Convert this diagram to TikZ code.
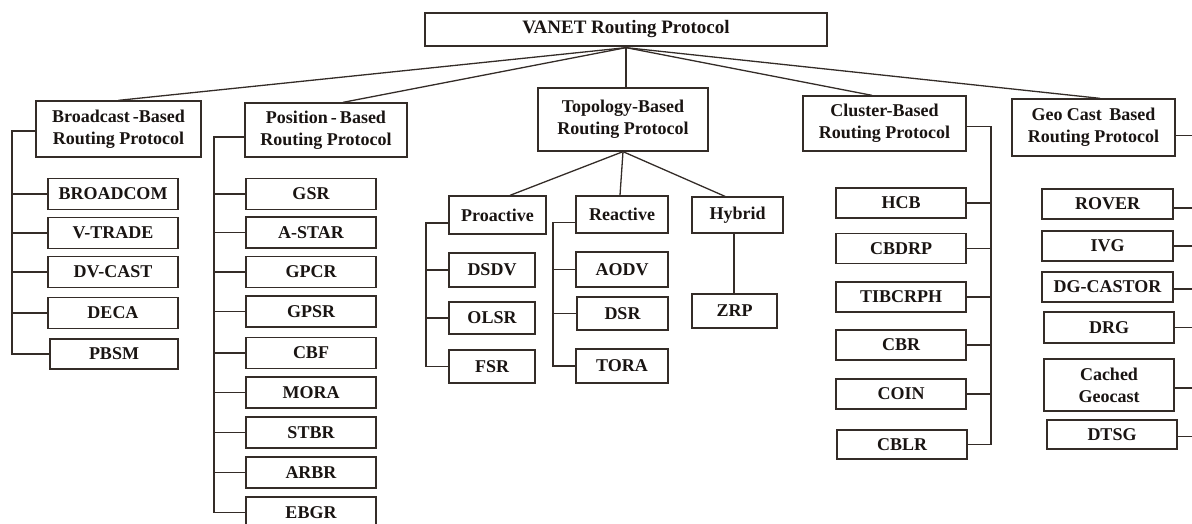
\documentclass[tikz,border=0pt]{standalone}
\usepackage{fontspec}
\setmainfont{Liberation Serif}
\definecolor{ln}{RGB}{52,44,40}
\definecolor{tx}{RGB}{25,20,18}
\begin{document}
\begin{tikzpicture}[x=1pt,y=-1pt,
  bx/.style={draw=ln,line width=1.3pt,inner sep=0pt,align=center,text=tx,
    font=\fontsize{18}{22}\selectfont\bfseries},
  cn/.style={draw=ln,line width=1.3pt}]
\useasboundingbox (0,0) rectangle (1192,524);
\clip (0,0) rectangle (1192,524);
% root and main categories
\node[bx,minimum width=402pt,minimum height=33pt,font=\fontsize{19}{22}\selectfont\bfseries] (root) at (626,29.5) {VANET Routing Protocol};
\node[bx,minimum width=165pt,minimum height=56pt] (bc) at (118.5,129) {Broadcast\,-Based\\Routing Protocol};
\node[bx,minimum width=162pt,minimum height=54pt] (pos) at (326,130) {Position\,-\,Based\\Routing Protocol};
\node[bx,minimum width=170pt,minimum height=63pt] (topo) at (623,119.5) {Topology-Based\\Routing Protocol};
\node[bx,minimum width=163pt,minimum height=55pt] (clu) at (884.5,123.5) {Cluster-Based\\Routing Protocol};
\node[bx,minimum width=163pt,minimum height=57pt] (geo) at (1093.5,127.5) {Geo Cast\ \,Based\\Routing Protocol};
\coordinate (rt) at ([yshift=-1pt]root.south);
\draw[cn] (rt) -- (bc.north);
\draw[cn] (rt) -- ([xshift=17pt]pos.north);
\draw[cn] (rt) -- (rt |- topo.north);
\draw[cn] (rt) -- ([xshift=-12.5pt]clu.north);
\draw[cn] (rt) -- ([xshift=6.5pt]geo.north);
% broadcast children
\foreach \n/\t/\y in {b1/BROADCOM/194,b2/V-TRADE/233,b3/DV-CAST/272,b4/DECA/313}
  \node[bx,minimum width=130pt,minimum height=31pt] (\n) at (113,\y) {\t};
\node[bx,minimum width=128pt,minimum height=30pt] (b5) at (114,354) {PBSM};
\coordinate (bbus) at (12,0);
\draw[cn] ([yshift=-2pt]bc.west) -- ([yshift=-2pt]bc.west -| bbus) |- (b5.west);
\foreach \n in {b1,b2,b3,b4}
  \draw[cn] (\n.west) -- (\n.west -| bbus);
% position children
\foreach \n/\t/\y in {p1/GSR/194,p2/A-STAR/232.5,p3/GPCR/272,p4/GPSR/311.5,p5/CBF/353,p6/MORA/392.5,p7/STBR/432.5,p8/ARBR/472.5,p9/EBGR/512.5}
  \node[bx,minimum width=130pt,minimum height=31pt] (\n) at (311,\y) {\t};
\coordinate (pbus) at (214,0);
\draw[cn] ([yshift=-7pt]pos.west) -- ([yshift=-7pt]pos.west -| pbus) |- (p9.west);
\foreach \n in {p1,p2,p3,p4,p5,p6,p7,p8}
  \draw[cn] (\n.west) -- (\n.west -| pbus);
% topology children
\node[bx,minimum width=97pt,minimum height=38pt] (pro) at (497.5,215) {Proactive};
\node[bx,minimum width=92pt,minimum height=37pt] (rea) at (622,214.5) {Reactive};
\node[bx,minimum width=91pt,minimum height=36pt] (hyb) at (737.5,215) {Hybrid};
\draw[cn] (topo.south) -- ([xshift=12.5pt]pro.north);
\draw[cn] (topo.south) -- ([xshift=-2pt]rea.north);
\draw[cn] (topo.south) -- ([xshift=-12.5pt]hyb.north);
\node[bx,minimum width=86pt,minimum height=34pt] (t1) at (492,270) {DSDV};
\node[bx,minimum width=86pt,minimum height=32pt] (t2) at (492,318) {OLSR};
\node[bx,minimum width=86pt,minimum height=33pt] (t3) at (492,366.5) {FSR};
\coordinate (prbus) at (426,0);
\draw[cn] ([yshift=-8pt]pro.west) -- ([yshift=-8pt]pro.west -| prbus) |- (t3.west);
\foreach \n in {t1,t2}
  \draw[cn] (\n.west) -- (\n.west -| prbus);
\node[bx,minimum width=92pt,minimum height=35pt] (r1) at (622,269.5) {AODV};
\node[bx,minimum width=91pt,minimum height=33pt] (r2) at (622.5,313.5) {DSR};
\node[bx,minimum width=92pt,minimum height=34pt] (r3) at (622,366) {TORA};
\coordinate (rebus) at (553,0);
\draw[cn] ([yshift=-8pt]rea.west) -- ([yshift=-8pt]rea.west -| rebus) |- (r3.west);
\foreach \n in {r1,r2}
  \draw[cn] (\n.west) -- (\n.west -| rebus);
\node[bx,minimum width=85pt,minimum height=34pt] (zrp) at (734.5,311) {ZRP};
\draw[cn] ([xshift=-3.5pt]hyb.south) -- ([xshift=-3.5pt]hyb.south |- zrp.north);
% cluster children
\foreach \n/\t/\y in {c1/HCB/203,c2/CBDRP/248.5,c3/TIBCRPH/297,c4/CBR/345,c5/COIN/394}
  \node[bx,minimum width=130pt,minimum height=30pt] (\n) at (901,\y) {\t};
\node[bx,minimum width=130pt,minimum height=29pt] (c6) at (902,444.5) {CBLR};
\coordinate (cbus) at (991,0);
\draw[cn] ([yshift=-3pt]clu.east) -- ([yshift=-3pt]clu.east -| cbus) |- (c6.east);
\foreach \n in {c1,c2,c3,c4,c5}
  \draw[cn] (\n.east) -- (\n.east -| cbus);
% geo cast children
\node[bx,minimum width=131pt,minimum height=30pt] (g1) at (1107.5,204) {ROVER};
\node[bx,minimum width=131pt,minimum height=30pt] (g2) at (1107.5,246) {IVG};
\node[bx,minimum width=131pt,minimum height=30pt] (g3) at (1107.5,287) {DG-CASTOR};
\node[bx,minimum width=130pt,minimum height=31pt] (g4) at (1109,327.5) {DRG};
\node[bx,minimum width=130pt,minimum height=52pt] (g5) at (1109,385) {Cached\\Geocast};
\node[bx,minimum width=130pt,minimum height=29pt] (g6) at (1112,434.5) {DTSG};
\coordinate (gbus) at (1200,0);
\draw[cn] ([yshift=-8pt]geo.east) -- ([yshift=-8pt]geo.east -| gbus);
\foreach \n/\s in {g1/-4,g2/0,g3/-2,g4/0,g5/-3,g6/-2}
  \draw[cn] ([yshift=\s pt]\n.east) -- ([yshift=\s pt]\n.east -| gbus);
\end{tikzpicture}
\end{document}
